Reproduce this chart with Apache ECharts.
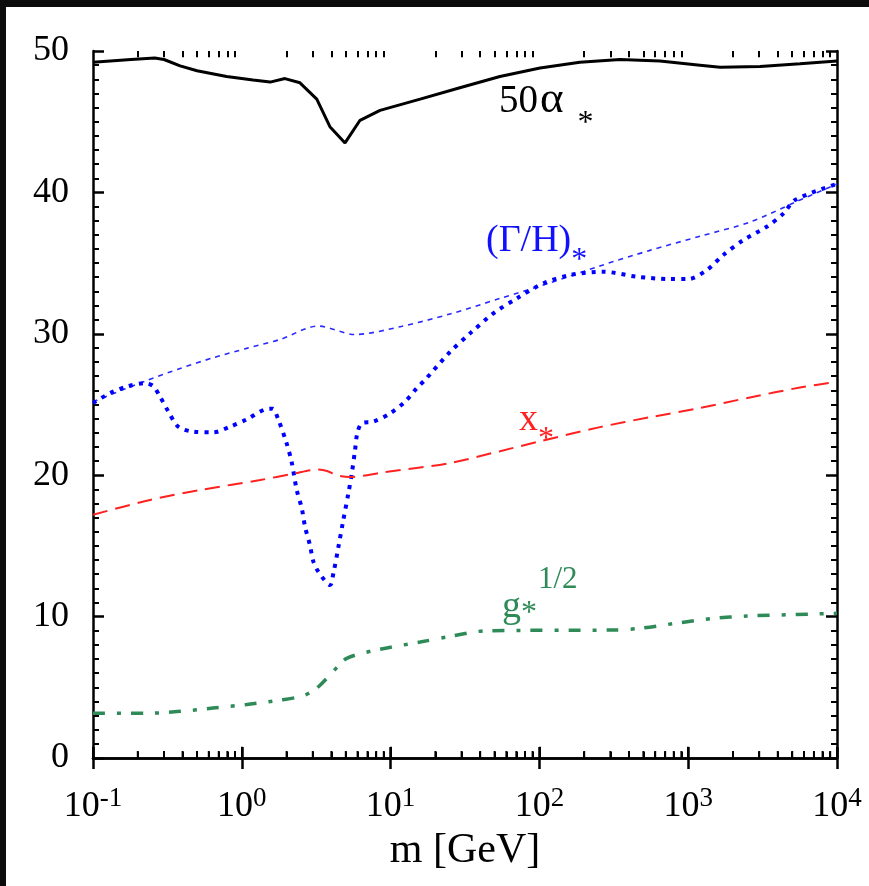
<!DOCTYPE html>
<html><head><meta charset="utf-8">
<script src="https://cdn.jsdelivr.net/npm/echarts@6/dist/echarts.min.js"></script>
<style>html,body{margin:0;padding:0;background:#0c0c0c;width:869px;height:886px;overflow:hidden;} #c{position:absolute;left:6px;top:7px;width:863px;height:879px;}</style>
</head><body><div id="c"></div>
<script>
// ---- data (m in GeV, value) ----
const xExponents = ['-1', '0', '1', '2', '3', '4'];
const yTicks = [0, 10, 20, 30, 40, 50];
const majorX = [0.1, 1, 10, 100, 1000, 10000];
const alpha50 = [[0.1,49.2],[0.18,49.4],[0.26,49.5],[0.3,49.4],[0.385,48.95],[0.5,48.6],[0.79,48.2],[1.19,47.95],[1.55,47.8],[1.95,48.05],[2.46,47.75],[3.19,46.6],[3.91,44.65],[4.94,43.5],[6.23,45.1],[8.49,45.8],[15.8,46.6],[29.2,47.4],[54.3,48.2],[101,48.8],[187,49.2],[348,49.4],[646,49.3],[1200,49.0],[1640,48.85],[3040,48.9],[5640,49.1],[10000,49.3]];
const xStar = [[0.1,17.2],[0.242,18.25],[0.524,18.95],[1.33,19.66],[2.21,20.1],[3.2,20.4],[3.74,20.3],[4.37,20.0],[5.33,19.87],[8.89,20.2],[25.1,20.86],[54.3,21.7],[101,22.4],[255,23.4],[553,24.1],[1200,24.75],[2600,25.5],[5640,26.2],[10000,26.6]];
const gHalf = [[0.1,3.16],[0.23,3.16],[0.385,3.3],[0.64,3.53],[1.08,3.79],[1.81,4.1],[2.58,4.4],[3.18,4.93],[4.1,6.1],[5.07,7.05],[8.49,7.69],[15.8,8.2],[25.1,8.6],[44.3,9.0],[313,9.05],[474,9.17],[881,9.57],[1470,9.87],[2480,10.04],[6900,10.18],[10000,10.23]];
const gammaRef = [[0.1,25.2],[0.23,26.7],[0.385,27.55],[0.64,28.3],[1.08,28.97],[1.81,29.6],[3.25,30.55],[5.75,29.95],[11.6,30.5],[25.1,31.4],[54.3,32.5],[118,33.6],[255,34.8],[553,35.9],[1200,36.9],[2600,37.9],[5220,39.3],[10000,40.6]];
const gammaH = [[0.1,25.1],[0.13,25.8],[0.168,26.26],[0.223,26.5],[0.254,26.3],[0.282,25.55],[0.321,24.5],[0.374,23.43],[0.472,23.08],[0.643,23.03],[0.834,23.43],[1.08,23.95],[1.43,24.65],[1.61,24.7],[1.75,24.0],[2.0,22.26],[2.16,20.96],[2.34,18.95],[2.53,17.66],[2.66,16.36],[2.87,15.06],[3.03,13.88],[3.27,13.17],[3.92,12.23],[4.12,13.04],[4.46,14.93],[4.81,16.83],[5.2,18.7],[5.48,20.1],[5.77,21.78],[5.97,22.96],[6.4,23.67],[7.66,23.79],[9.91,24.37],[12.5,25.2],[15.0,26.15],[17.0,26.73],[25.1,28.72],[34.2,30.03],[49,31.44],[70.4,32.5],[106,33.56],[161,34.16],[269,34.39],[451,34.04],[755,33.87],[1000,33.87],[1330,34.5],[1720,35.57],[2350,36.63],[3370,37.57],[4360,38.5],[5220,39.46],[10000,40.6]];

// log minor tick positions (2..9 per decade)
const minorTicks = [];
for (let k = -1; k <= 3; k++) for (let d = 2; d <= 9; d++) minorTicks.push(d * Math.pow(10, k));

const FONT = "'Liberation Serif','Times New Roman',serif";
const axisLineStyle = { color: '#000', width: 2.5 };

function subLabel(x, y, parts, color, size, subH) {
  const rich = { a: { fontSize: size, fontFamily: FONT, lineHeight: size, verticalAlign: 'top', fill: color },
                 g: { fontSize: size + 6, fontFamily: FONT, lineHeight: size, verticalAlign: 'top', fill: color, padding: [-4, 14, 0, 2] },
                 s: { fontSize: 32, fontFamily: FONT, lineHeight: subH, verticalAlign: 'bottom', fill: color } };
  return { type: 'text', z: 100, style: { x: x, y: y, text: parts + '{s|*}', fill: color, rich: rich } };
}

// tick marks in data units (drawn through the axis scales as markLines)
const tickLines = [];
minorTicks.forEach(function (m) {
  tickLines.push([{ coord: [m, 0] }, { coord: [m, 0.45] }]);
  tickLines.push([{ coord: [m, 50] }, { coord: [m, 49.55] }]);
});
majorX.forEach(function (m) {
  tickLines.push([{ coord: [m, 0] }, { coord: [m, 0.8] }]);
});

const chart = echarts.init(document.getElementById('c'));
const xCommon = {
  type: 'log', logBase: 10, min: 0.1, max: 10000,
  axisLine: { show: true, lineStyle: axisLineStyle },
  axisTick: { show: true, inside: true, length: 11, lineStyle: { color: '#000', width: 2.5 } },
  minorTick: { show: false },
  splitLine: { show: false }
};
const yCommon = {
  type: 'value', min: 0, max: 50, interval: 10,
  axisLine: { show: true, lineStyle: axisLineStyle },
  axisTick: { show: true, inside: true, length: 11, lineStyle: { color: '#000', width: 2.5 } },
  minorTick: { show: true, splitNumber: 10, length: 6, lineStyle: { color: '#000', width: 2 } },
  splitLine: { show: false }, minorSplitLine: { show: false }
};

chart.setOption({
  backgroundColor: '#fff',
  animation: false,
  grid: { left: 87, right: 32, top: 44, bottom: 128, containLabel: false },
  xAxis: [
    Object.assign({}, xCommon, {
      position: 'bottom',
      axisLabel: {
        show: true, margin: 27, showMinLabel: true, showMaxLabel: true,
        formatter: function (v) { const e = Math.round(Math.log10(v)); return '{b|10}{s|' + xExponents[e + 1] + '}'; },
        rich: {
          b: { fontSize: 36, fontFamily: FONT, color: '#000', lineHeight: 40, verticalAlign: 'bottom' },
          s: { fontSize: 27, fontFamily: FONT, color: '#000', lineHeight: 14, verticalAlign: 'top' }
        }
      },
      name: 'm [GeV]', nameLocation: 'middle', nameGap: 72,
      nameTextStyle: { fontSize: 42, fontFamily: FONT, color: '#000' }
    }),
    Object.assign({}, xCommon, { position: 'top', axisLabel: { show: false } })
  ],
  yAxis: [
    Object.assign({}, yCommon, {
      position: 'left',
      axisLabel: { show: true, margin: 24, fontSize: 36, fontFamily: FONT, color: '#000',
        formatter: function (v) { return yTicks.indexOf(v) >= 0 ? String(v) : ''; } }
    }),
    Object.assign({}, yCommon, { position: 'right', axisLabel: { show: false } })
  ],
  series: [
    { name: '50α*', type: 'line', data: alpha50, showSymbol: false, smooth: false,
      lineStyle: { color: '#000', width: 3 },
      markLine: { silent: true, symbol: ['none', 'none'], animation: false, label: { show: false },
        emphasis: { disabled: true },
        lineStyle: { color: '#000', width: 2, type: 'solid' }, data: tickLines } },
    { name: '(Γ/H)* ref', type: 'line', data: gammaRef, showSymbol: false, smooth: 0.3,
      lineStyle: { color: '#2a2aff', width: 1.6, type: [5, 5] } },
    { name: '(Γ/H)*', type: 'line', data: gammaH, showSymbol: false, smooth: 0.3,
      lineStyle: { color: '#0000ff', width: 4, type: [4, 6] } },
    { name: 'x*', type: 'line', data: xStar, showSymbol: false, smooth: 0.3,
      lineStyle: { color: '#ff2020', width: 2, type: [15, 8] } },
    { name: 'g*^1/2', type: 'line', data: gHalf, showSymbol: false, smooth: 0.3,
      lineStyle: { color: '#2e8b57', width: 3.5, type: [12, 12, 4, 10] } }
  ]
});

// annotations + backup tick rectangles placed through the axis scale
const els = [
  subLabel(493, 75, '{a|50}{g|α}', '#000', 39, 58),
  subLabel(480, 215, '{a|(Γ/H)}', '#1010ff', 38, 55),
  subLabel(513, 394, '{a|x}', '#ff2020', 38, 55),
  subLabel(496, 581, '{a|g}', '#2e8b57', 38, 42),
  { type: 'text', z: 100, style: { x: 532, y: 557, text: '1/2', fill: '#2e8b57', font: "31px 'Liberation Serif', serif" } }
];
const yBottom = chart.convertToPixel({ yAxisIndex: 0 }, 0);
minorTicks.forEach(function (m) {
  const x = chart.convertToPixel({ xAxisIndex: 0 }, m);
  els.push({ type: 'rect', z: 50, silent: true, shape: { x: x - 1, y: yBottom - 7, width: 2, height: 7 }, style: { fill: '#000' } });
});
chart.setOption({ graphic: els });
</script></body></html>
